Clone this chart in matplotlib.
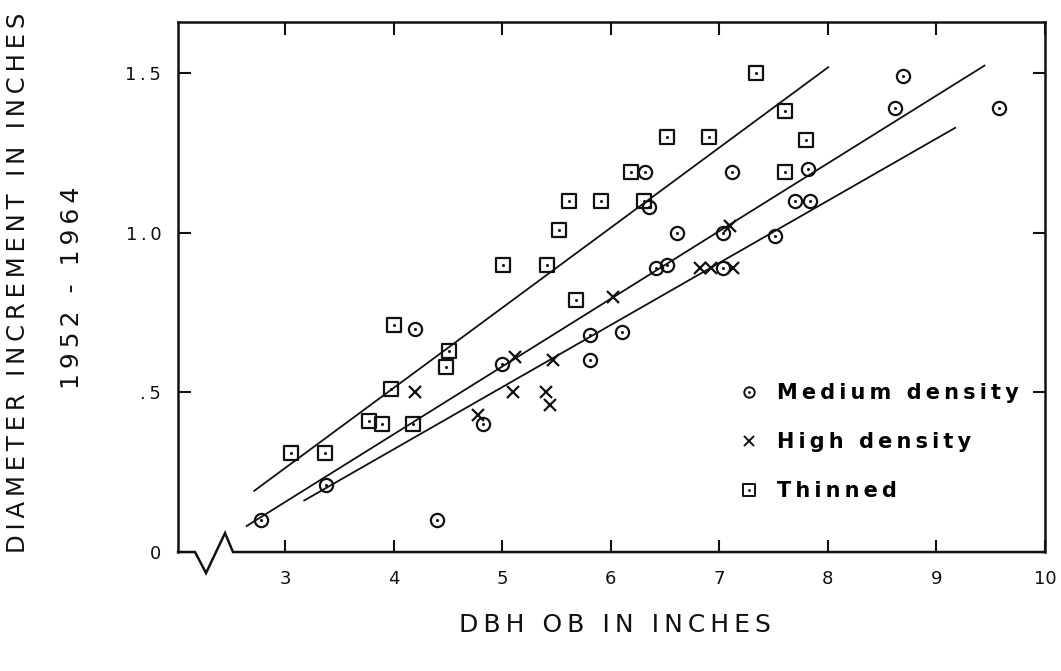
import matplotlib
matplotlib.use("Agg")
import matplotlib.pyplot as plt
from matplotlib.lines import Line2D
from matplotlib.markers import MarkerStyle
from matplotlib.legend_handler import HandlerTuple

# readings: DBH (in) vs diameter increment 1952-1964 (in)
medium_x = [2.78, 3.38, 4.20, 4.40, 4.82, 5.00, 5.81, 5.81, 6.10, 6.32, 6.35, 6.42,
            6.52, 6.61, 7.03, 7.03, 7.12, 7.51, 7.70, 7.82, 7.84, 8.62, 8.69, 9.58]
medium_y = [0.10, 0.21, 0.70, 0.10, 0.40, 0.59, 0.68, 0.60, 0.69, 1.19, 1.08, 0.89,
            0.90, 1.00, 1.00, 0.89, 1.19, 0.99, 1.10, 1.20, 1.10, 1.39, 1.49, 1.39]

high_x = [4.20, 4.78, 5.10, 5.12, 5.40, 5.44, 5.47, 6.02, 6.82, 6.92, 7.10, 7.13]
high_y = [0.50, 0.43, 0.50, 0.61, 0.50, 0.46, 0.60, 0.80, 0.89, 0.89, 1.02, 0.89]

thinned_x = [3.06, 3.37, 3.77, 3.89, 4.00, 3.98, 4.18, 4.48, 4.51, 5.01, 5.41, 5.52,
             5.62, 5.68, 5.91, 6.19, 6.31, 6.52, 6.91, 7.34, 7.61, 7.61, 7.80]
thinned_y = [0.31, 0.31, 0.41, 0.40, 0.71, 0.51, 0.40, 0.58, 0.63, 0.90, 0.90, 1.01,
             1.10, 0.79, 1.10, 1.19, 1.10, 1.30, 1.30, 1.50, 1.38, 1.19, 1.29]

# fitted lines (end points)
fit_x = [[2.71, 8.01], [2.64, 9.45], [3.17, 9.18]]
fit_y = [[0.19, 1.52], [0.08, 1.525], [0.16, 1.33]]

x_ticks = [3, 4, 5, 6, 7, 8, 9, 10]
y_ticks = [0, 0.5, 1.0, 1.5]

THIN = "\u2009"


def spaced(text, gap=THIN):
    """Fake letter spacing by putting thin spaces between the characters."""
    return gap.join(text)


ink = "#111111"
fig = plt.figure(figsize=(10.61, 6.71), dpi=100, facecolor="white")
ax = fig.add_axes([0.1678, 0.1773, 0.8171, 0.7899])

for xs, ys in zip(fit_x, fit_y):
    ax.plot(xs, ys, color=ink, lw=1.3, solid_capstyle="butt")

square = MarkerStyle("s", joinstyle="round")
ax.plot(medium_x, medium_y, ls="none", marker="o", ms=9.5, mfc="none", mec=ink, mew=1.6)
ax.plot(medium_x, medium_y, ls="none", marker="o", ms=2.2, mfc=ink, mec=ink, mew=0)
ax.plot(high_x, high_y, ls="none", marker="x", ms=8.5, mec=ink, mew=1.6)
ax.plot(thinned_x, thinned_y, ls="none", marker=square, ms=9.5, mfc="none", mec=ink, mew=1.6)
ax.plot(thinned_x, thinned_y, ls="none", marker="o", ms=2.2, mfc=ink, mec=ink, mew=0)

ax.set_xlim(2.015, 10.0)
ax.set_ylim(0, 1.66)
ax.set_xticks(x_ticks)
ax.set_xticklabels([str(t) for t in x_ticks])
ax.set_yticks(y_ticks)
ax.set_yticklabels(["0", "." + THIN + "5", "1" + THIN + "." + THIN + "0", "1" + THIN + "." + THIN + "5"])
ax.tick_params(direction="in", length=9, width=1.5, top=True, right=True,
               labelsize=13, colors=ink)
ax.tick_params(axis="x", pad=13)
ax.tick_params(axis="y", pad=12)

for side in ("left", "right", "top"):
    ax.spines[side].set_linewidth(1.8)
    ax.spines[side].set_color(ink)
ax.spines["bottom"].set_visible(False)

# broken x axis drawn by hand
brk_x = [0, 0.0196, 0.0323, 0.0542, 0.0634, 1]
brk_y = [0, 0, -0.0396, 0.0358, 0, 0]
ax.add_line(Line2D(brk_x, brk_y, transform=ax.transAxes, color=ink, lw=1.8,
                   clip_on=False, solid_joinstyle="miter"))

# legend
h_med = (Line2D([], [], ls="none", marker="o", ms=7.5, mfc="none", mec=ink, mew=1.4),
         Line2D([], [], ls="none", marker="o", ms=2, mfc=ink, mec=ink, mew=0))
h_high = Line2D([], [], ls="none", marker="x", ms=6.5, mec=ink, mew=1.4)
h_thin = (Line2D([], [], ls="none", marker=square, ms=8, mfc="none", mec=ink, mew=1.4),
          Line2D([], [], ls="none", marker="o", ms=2, mfc=ink, mec=ink, mew=0))
ax.legend([h_med, h_high, h_thin],
          [spaced("Medium density"), spaced("High density"), spaced("Thinned")],
          handler_map={tuple: HandlerTuple(ndivide=1)},
          loc="center left", bbox_to_anchor=(0.647, 0.207), frameon=False,
          prop={"size": 15, "weight": "bold"}, handlelength=1.0, handletextpad=0.85,
          labelspacing=1.4, borderpad=0, borderaxespad=0)

fig.text(0.017, 0.578, spaced("DIAMETER INCREMENT IN INCHES"), rotation=90,
         ha="center", va="center", fontsize=17.5, color=ink)
fig.text(0.068, 0.571, spaced("1952 - 1964"), rotation=90,
         ha="center", va="center", fontsize=18, color=ink)
fig.text(0.58, 0.0686, spaced("DBH OB IN INCHES"), ha="center", va="center",
         fontsize=18, color=ink)

fig.savefig("out.png", dpi=100, facecolor="white")
plt.close(fig)
